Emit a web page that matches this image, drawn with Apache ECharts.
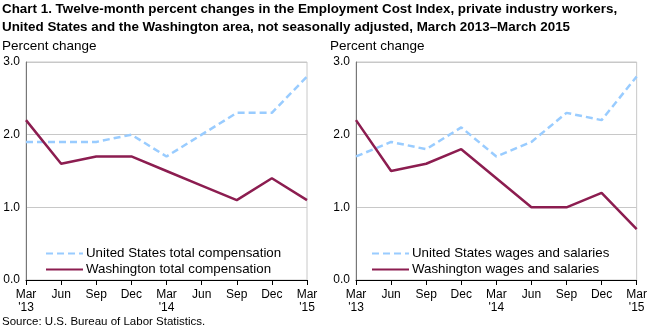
<!DOCTYPE html>
<html><head><meta charset="utf-8">
<script src="https://cdn.jsdelivr.net/npm/echarts@6/dist/echarts.min.js"></script>
<style>html,body{margin:0;padding:0;background:#fff}#c{width:650px;height:327px}</style>
</head><body><div id="c"></div>
<script>
const categories = ["Mar\n'13","Jun","Sep","Dec","Mar\n'14","Jun","Sep","Dec","Mar\n'15"];
const usTotalComp = [1.9,1.9,1.9,2.0,1.7,2.0,2.3,2.3,2.8];
const waTotalComp = [2.2,1.6,1.7,1.7,1.5,1.3,1.1,1.4,1.1];
const usWages = [1.7,1.9,1.8,2.1,1.7,1.9,2.3,2.2,2.8];
const waWages = [2.2,1.5,1.6,1.8,1.4,1.0,1.0,1.2,0.7];
const yTicks = [0,1,2,3];

const FONT = 'Liberation Sans, Arial, sans-serif';
const BLUE = '#99CCFF', RED = '#8C1D50';
const chart = echarts.init(document.getElementById('c'), null, {renderer:'canvas'});

function xAxis(i){return {type:'category',gridIndex:i,data:categories,boundaryGap:false,
  axisLine:{lineStyle:{color:'#000',width:1}},
  axisTick:{show:true,alignWithLabel:true,length:5,inside:false,lineStyle:{color:'#000'}},
  axisLabel:{color:'#000',fontFamily:FONT,fontSize:12,lineHeight:13,margin:8,interval:0},
  splitLine:{show:false}};}
function yAxis(i){return {type:'value',gridIndex:i,min:yTicks[0],max:yTicks[yTicks.length-1],interval:1,
  axisLine:{show:true,lineStyle:{color:'#777'}},axisTick:{show:false},
  axisLabel:{color:'#000',fontFamily:FONT,fontSize:12,margin:6,formatter:v=>v.toFixed(1)},
  splitLine:{show:true,lineStyle:{color:'#c8c8c8',width:1}}};}
function ser(name,data,i,blue){return {name,type:'line',xAxisIndex:i,yAxisIndex:i,data,
  symbol:'none',showSymbol:false,silent:true,
  lineStyle:blue?{color:BLUE,width:2.5,type:[7,4]}:{color:RED,width:2.5},
  itemStyle:{color:blue?BLUE:RED},z:blue?3:4};}
function legend(names,left){return {data:names,orient:'vertical',left,top:247,padding:0,
  itemWidth:37,itemHeight:14,itemGap:3,itemStyle:{opacity:0,borderWidth:0},
  textStyle:{fontFamily:FONT,fontSize:13.3,color:'#000',padding:[0,0,0,-2]}};}

chart.setOption({
  animation:false,
  textStyle:{fontFamily:FONT},
  title:{text:'Chart 1. Twelve-month percent changes in the Employment Cost Index, private industry workers,\nUnited States and the Washington area, not seasonally adjusted, March 2013\u2013March 2015',
    left:2,top:0,padding:0,textStyle:{fontFamily:FONT,fontSize:13.4,fontWeight:'bold',color:'#000',lineHeight:18}},
  grid:[{left:26,right:343,top:62,bottom:47,show:true,borderColor:'#c8c8c8',borderWidth:1},
        {left:356,right:11,top:62,bottom:47,show:true,borderColor:'#c8c8c8',borderWidth:1}],
  xAxis:[xAxis(0),xAxis(1)],
  yAxis:[yAxis(0),yAxis(1)],
  legend:[
    legend(['United States total compensation','Washington total compensation'],45),
    legend(['United States wages and salaries','Washington wages and salaries'],371)
  ],
  graphic:[
    {type:'text',left:2,top:39,style:{text:'Percent change',font:'13.5px '+FONT,fill:'#000'}},
    {type:'text',left:330,top:39,style:{text:'Percent change',font:'13.5px '+FONT,fill:'#000'}},
    {type:'text',left:2,top:316,style:{text:'Source: U.S. Bureau of Labor Statistics.',font:'11.5px '+FONT,fill:'#000'}}
  ],
  series:[
    ser('United States total compensation',usTotalComp,0,true),
    ser('Washington total compensation',waTotalComp,0,false),
    ser('United States wages and salaries',usWages,1,true),
    ser('Washington wages and salaries',waWages,1,false)
  ]
});
</script></body></html>
